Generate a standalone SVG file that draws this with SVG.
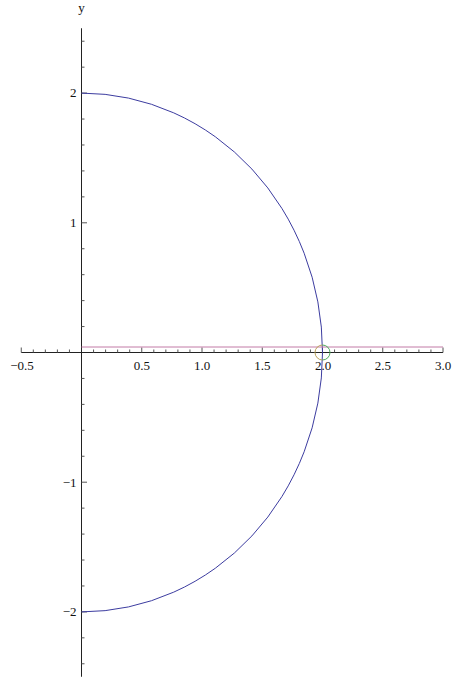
<svg xmlns="http://www.w3.org/2000/svg" width="454" height="679" viewBox="0 0 454 679">
<style>
.ax{stroke:#222;stroke-width:1;fill:none}
.tk{stroke:#555;stroke-width:1;fill:none}
.xl{text-anchor:middle}
.yl{text-anchor:end}
</style>
<rect width="454" height="679" fill="#fff"/>
<g id="axes">
<path class="ax" d="M21.25,352.5H443M81.5,28.25V676.75"/>
</g>
<g id="ticks">
<path class="tk" d="M21.25,352.5v-5M33.3,352.5v-3M45.35,352.5v-3M57.4,352.5v-3M69.45,352.5v-3M93.55,352.5v-3M105.6,352.5v-3M117.65,352.5v-3M129.7,352.5v-3M141.75,352.5v-5M153.8,352.5v-3M165.85,352.5v-3M177.9,352.5v-3M189.95,352.5v-3M202,352.5v-5M214.05,352.5v-3M226.1,352.5v-3M238.15,352.5v-3M250.2,352.5v-3M262.25,352.5v-5M274.3,352.5v-3M286.35,352.5v-3M298.4,352.5v-3M310.45,352.5v-3M322.5,352.5v-5M334.55,352.5v-3M346.6,352.5v-3M358.65,352.5v-3M370.7,352.5v-3M382.75,352.5v-5M394.8,352.5v-3M406.85,352.5v-3M418.9,352.5v-3M430.95,352.5v-3M443,352.5v-5"/>
<path class="tk" d="M81.5,326.56h3M81.5,300.62h3M81.5,274.68h3M81.5,248.74h3M81.5,222.8h5.5M81.5,196.86h3M81.5,170.92h3M81.5,144.98h3M81.5,119.04h3M81.5,93.1h5.5M81.5,67.16h3M81.5,41.22h3M81.5,378.44h3M81.5,404.38h3M81.5,430.32h3M81.5,456.26h3M81.5,482.2h5.5M81.5,508.14h3M81.5,534.08h3M81.5,560.02h3M81.5,585.96h3M81.5,611.9h5.5M81.5,637.84h3M81.5,663.78h3"/>
</g>
<g id="labels" font-family="Liberation Serif, Times New Roman, serif" font-size="13" fill="#111">
<text class="xl" x="22" y="370">−0.5</text>
<text class="xl" x="141.75" y="370">0.5</text>
<text class="xl" x="202" y="370">1.0</text>
<text class="xl" x="262.25" y="370">1.5</text>
<text class="xl" x="323" y="370">2.0</text>
<text class="xl" x="382.75" y="370">2.5</text>
<text class="xl" x="443" y="370">3.0</text>
<text class="yl" x="76.5" y="97">2</text>
<text class="yl" x="76.5" y="227">1</text>
<text class="yl" x="76.5" y="486.5">−1</text>
<text class="yl" x="76.5" y="616">−2</text>
<text class="xl" x="81.5" y="11.5">y</text>
</g>
<g id="curves">
<path d="M81.5,93.1A241,259.4 0 0 1 81.5,611.9" fill="none" stroke="#3c3ca0" stroke-width="1"/>
<path d="M81.5,347H443" fill="none" stroke="#c27aa6" stroke-width="1"/>
<path d="M322.5,345A7.5,7.5 0 0 0 322.5,360" fill="none" stroke="#bca25a" stroke-width="1"/>
<path d="M322.5,345A7.5,7.5 0 0 1 322.5,360" fill="none" stroke="#4eae5e" stroke-width="1"/>
</g>
</svg>
